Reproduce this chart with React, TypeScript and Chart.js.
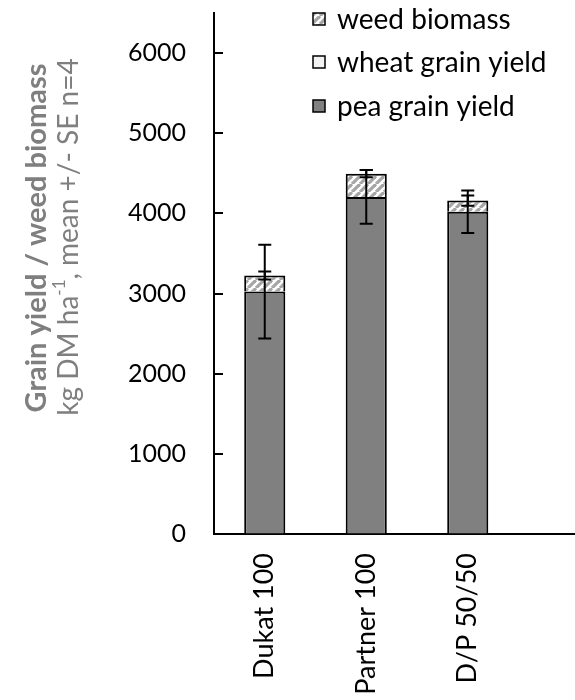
import React, { useEffect, useRef } from "react";
import { Chart, registerables } from "chart.js";

Chart.register(...registerables);

// ---- data ----
const categories = ["Dukat 100", "Partner 100", "D/P 50/50", ""];
const peaYield = [3025, 4205, 4020, null];
const wheatYield = [0, 0, 0, null];
const weedBiomass = [200, 290, 140, null];
const peaSE = [585, 335, 265, null];
const totalSE = [50, 45, 64, null];
const yTicks = [0, 1000, 2000, 3000, 4000, 5000, 6000];
const yMin = 0;
const yMax = 6500;
const seriesLabels = ["pea grain yield", "wheat grain yield", "weed biomass"];
const titleLine1 = "Grain yield / weed biomass";
const titleLine2Parts = ["kg DM ha", "-1", ", mean +/- SE n=4"];

const FONT = "Lato";

function makeHatch(): CanvasPattern | string {
  const c = document.createElement("canvas");
  const p = 8;
  c.width = p;
  c.height = p;
  const g = c.getContext("2d");
  if (!g) return "#cccccc";
  g.fillStyle = "#ffffff";
  g.fillRect(0, 0, p, p);
  g.strokeStyle = "#a6a6a6";
  g.lineWidth = 3.2;
  for (const x0 of [-p, 0, p]) {
    g.beginPath();
    g.moveTo(x0, p);
    g.lineTo(x0 + p, 0);
    g.stroke();
  }
  const pat = g.createPattern(c, "repeat");
  return pat || "#cccccc";
}

export default function App() {
  const ref = useRef<HTMLCanvasElement | null>(null);

  useEffect(() => {
    const canvas = ref.current;
    if (!canvas) return;
    const hatch = makeHatch();
    const colors: any[] = ["#808080", "#f2f2f2", hatch];
    const seriesData = [peaYield, wheatYield, weedBiomass];

    const errorBars = {
      id: "errorBars",
      afterDatasetsDraw(chart: any) {
        const ctx = chart.ctx;
        const xs = chart.scales.x;
        const ys = chart.scales.y;
        const draw = (x: number, v: number, se: number) => {
          const y1 = ys.getPixelForValue(v - se);
          const y2 = ys.getPixelForValue(v + se);
          ctx.beginPath();
          ctx.moveTo(x, y1);
          ctx.lineTo(x, y2);
          ctx.moveTo(x - 6.5, y1);
          ctx.lineTo(x + 6.5, y1);
          ctx.moveTo(x - 6.5, y2);
          ctx.lineTo(x + 6.5, y2);
          ctx.stroke();
        };
        ctx.save();
        ctx.strokeStyle = "#000";
        ctx.lineWidth = 2;
        categories.forEach((_, i) => {
          const p = peaYield[i];
          if (p == null) return;
          const x = xs.getPixelForValue(i);
          draw(x, p, peaSE[i] as number);
          const total = p + (wheatYield[i] as number) + (weedBiomass[i] as number);
          draw(x, total, totalSE[i] as number);
        });
        ctx.restore();
      },
    };

    const decorations = {
      id: "decorations",
      afterDraw(chart: any) {
        const ctx = chart.ctx;
        const ys = chart.scales.y;
        const left = chart.chartArea.left;
        // inward tick marks
        ctx.save();
        ctx.strokeStyle = "#000";
        ctx.lineWidth = 2;
        ys.ticks.forEach((t: any) => {
          const y = Math.round(ys.getPixelForValue(t.value));
          ctx.beginPath();
          ctx.moveTo(left, y);
          ctx.lineTo(left + 9, y);
          ctx.stroke();
        });
        ctx.restore();

        // axis title
        ctx.save();
        ctx.fillStyle = "#7f7f7f";
        ctx.textBaseline = "middle";
        ctx.translate(37, 238);
        ctx.rotate(-Math.PI / 2);
        ctx.textAlign = "center";
        ctx.font = `bold 29px ${FONT}`;
        ctx.fillText(titleLine1, 0, 0);
        ctx.restore();

        ctx.save();
        ctx.fillStyle = "#7f7f7f";
        ctx.textBaseline = "middle";
        ctx.translate(69, 237);
        ctx.rotate(-Math.PI / 2);
        ctx.textAlign = "left";
        const fMain = `28px ${FONT}`;
        const fSup = `17px ${FONT}`;
        ctx.font = fMain;
        const w0 = ctx.measureText(titleLine2Parts[0]).width;
        const w2 = ctx.measureText(titleLine2Parts[2]).width;
        ctx.font = fSup;
        const w1 = ctx.measureText(titleLine2Parts[1]).width;
        let x = -(w0 + w1 + w2) / 2;
        ctx.font = fMain;
        ctx.fillText(titleLine2Parts[0], x, 0);
        x += w0;
        ctx.font = fSup;
        ctx.fillText(titleLine2Parts[1], x, -9);
        x += w1;
        ctx.font = fMain;
        ctx.fillText(titleLine2Parts[2], x, 0);
        ctx.restore();

        // legend (reverse order)
        ctx.save();
        const rowsY = [19, 62, 106];
        const order = [2, 1, 0];
        ctx.font = `28px ${FONT}`;
        ctx.textBaseline = "middle";
        ctx.textAlign = "left";
        order.forEach((di, k) => {
          const ds = chart.data.datasets[di];
          const cy = rowsY[k];
          ctx.fillStyle = ds.backgroundColor;
          ctx.fillRect(313, cy - 6, 12, 12);
          ctx.strokeStyle = "#000";
          ctx.lineWidth = 1.5;
          ctx.strokeRect(313, cy - 6, 12, 12);
          ctx.fillStyle = "#000";
          ctx.fillText(ds.label, 337, cy + 1);
        });
        ctx.restore();
      },
    };

    const chart = new Chart(canvas, {
      type: "bar",
      data: {
        labels: categories,
        datasets: seriesData.map((d, i) => ({
          label: seriesLabels[i],
          data: d as any,
          backgroundColor: colors[i],
          borderColor: "#000",
          borderWidth: 2,
          barPercentage: 0.405,
          categoryPercentage: 1,
        })),
      },
      options: {
        responsive: false,
        animation: false,
        devicePixelRatio: 1,
        layout: { padding: { top: 13, left: 0, right: 0, bottom: 0 } },
        plugins: {
          legend: { display: false },
          tooltip: { enabled: false },
        },
        scales: {
          x: {
            type: "category",
            stacked: true,
            offset: true,
            grid: { display: true, drawOnChartArea: false, drawTicks: false },
            border: { display: true, color: "#000", width: 2 },
            ticks: {
              autoSkip: false,
              minRotation: 90,
              maxRotation: 90,
              padding: 19,
              color: "#000",
              font: { family: FONT, size: 27 },
            },
            afterFit: (scale: any) => {
              scale.height = 166;
              scale.paddingLeft = 0;
              scale.paddingRight = 0;
            },
          },
          y: {
            type: "linear",
            stacked: true,
            min: yMin,
            max: yMax,
            grid: { display: true, drawOnChartArea: false, drawTicks: false },
            border: { display: true, color: "#000", width: 2 },
            ticks: {
              padding: 28,
              color: "#000",
              font: { family: FONT, size: 25, lineHeight: 1 },
              callback: (v: any) => String(v),
            },
            afterBuildTicks: (scale: any) => {
              scale.ticks = yTicks.map((v) => ({ value: v }));
            },
            afterFit: (scale: any) => {
              scale.width = 214;
              scale.paddingTop = 0;
              scale.paddingBottom = 0;
            },
          },
        },
      },
      plugins: [errorBars, decorations],
    });

    return () => chart.destroy();
  }, []);

  return (
    <div
      style={{
        position: "absolute",
        left: 0,
        top: 0,
        width: 575,
        height: 700,
        overflow: "hidden",
        background: "#fff",
      }}
    >
      <canvas
        ref={ref}
        width={620}
        height={700}
        style={{ width: 620, height: 700, display: "block" }}
      />
    </div>
  );
}
